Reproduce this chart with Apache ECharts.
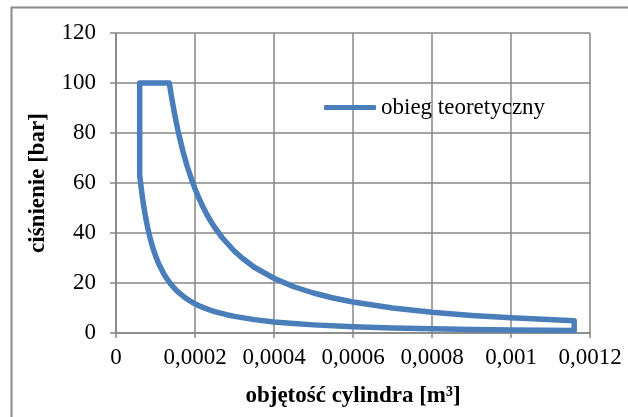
<!DOCTYPE html>
<html>
<head>
<meta charset="utf-8">
<script src="https://cdn.jsdelivr.net/npm/echarts@6/dist/echarts.min.js"></script>
<style>
html,body{margin:0;padding:0;background:#fff;}
#c{width:628px;height:417px;}
</style>
</head>
<body>
<div id="c"></div>
<script>
// Cycle path: volume [m3] and pressure [bar], in drawing order
var volume = [
  0.00116, 0.001, 0.0009, 0.0008, 0.0007, 0.0006, 0.0005, 0.00045, 0.0004, 0.00035,
  0.0003, 0.00028, 0.00026, 0.00025, 0.00024, 0.00022, 0.00021, 0.0002, 0.00019,
  0.00018, 0.00017, 0.00016, 0.00015, 0.00014, 0.00013, 0.00012, 0.00011, 0.000105,
  0.0001, 0.000095, 0.00009, 0.000085, 0.00008, 0.000075, 0.00007, 0.0000675,
  0.000065, 0.0000625, 0.00006,
  0.00006,
  0.000135,
  0.00014, 0.000145, 0.00015, 0.000155, 0.00016, 0.00017, 0.00018, 0.00019, 0.0002,
  0.00021, 0.00022, 0.00023, 0.00024, 0.00025, 0.00027, 0.0003, 0.00032, 0.00035,
  0.0004, 0.00045, 0.0005, 0.00055, 0.0006, 0.0007, 0.0008, 0.0009, 0.001, 0.00116,
  0.00116
];
var pressure = [
  1.0, 1.23, 1.43, 1.68, 2.03, 2.52, 3.25, 3.76, 4.44, 5.35,
  6.64, 7.32, 8.12, 8.57, 9.08, 10.25, 10.94, 11.7, 12.59,
  13.58, 14.71, 16.01, 17.53, 19.3, 21.41, 23.96, 27.06, 28.88,
  30.92, 33.22, 35.84, 38.81, 42.27, 46.26, 50.93, 53.62,
  56.52, 59.7, 63.2,
  100,
  100,
  95.0, 90.5, 86.3, 82.4, 78.8, 72.4, 66.8, 62.0, 57.7,
  53.9, 50.5, 47.4, 44.7, 42.2, 37.9, 32.7, 29.9, 26.3,
  21.9, 18.5, 16.0, 14.0, 12.4, 9.98, 8.28, 7.02, 6.06, 4.9,
  1.0
];
var seriesName = 'obieg teoretyczny';
var xTitle = 'objętość cylindra [m³]';
var yTitle = 'ciśnienie [bar]';

var pts = volume.map(function (v, i) { return [v, pressure[i]]; });
var font = '"Liberation Serif", "Times New Roman", serif';
var gridColor = '#878787';

var chart = echarts.init(document.getElementById('c'), null, {renderer: 'canvas'});
chart.setOption({
  animation: false,
  backgroundColor: '#fff',
  graphic: [{
    type: 'rect', left: 9, top: 5, silent: true,
    shape: {width: 640, height: 440},
    style: {fill: 'none', stroke: '#8a8a8a', lineWidth: 2}
  }],
  grid: {left: 116, right: 38, top: 33, bottom: 84},
  legend: {
    left: 319, top: 91,
    data: [seriesName],
    icon: 'roundRect',
    itemWidth: 52, itemHeight: 5,
    textStyle: {fontFamily: font, fontSize: 23, color: '#000'}
  },
  xAxis: {
    type: 'value', min: 0, max: 0.0012, interval: 0.0002,
    name: xTitle, nameLocation: 'middle', nameGap: 52,
    nameTextStyle: {fontFamily: font, fontSize: 23, fontWeight: 'bold', color: '#000'},
    axisLine: {show: true, lineStyle: {color: gridColor, width: 1.5}},
    axisTick: {show: true, length: 5, lineStyle: {color: gridColor, width: 1.5}},
    splitLine: {show: true, lineStyle: {color: gridColor, width: 1.5}},
    axisLabel: {
      fontFamily: font, fontSize: 23, color: '#000', margin: 13,
      formatter: function (v) { return v === 0 ? '0' : String(+v.toFixed(4)).replace('.', ','); }
    }
  },
  yAxis: {
    type: 'value', min: 0, max: 120, interval: 20,
    name: yTitle, nameLocation: 'middle', nameGap: 66, nameRotate: 90,
    nameTextStyle: {fontFamily: font, fontSize: 23, fontWeight: 'bold', color: '#000'},
    axisLine: {show: true, lineStyle: {color: gridColor, width: 1.5}},
    axisTick: {show: true, length: 6, lineStyle: {color: gridColor, width: 1.5}},
    splitLine: {show: true, lineStyle: {color: gridColor, width: 1.5}},
    axisLabel: {fontFamily: font, fontSize: 23, color: '#000', margin: 20}
  },
  series: [{
    name: seriesName,
    type: 'line',
    data: pts,
    showSymbol: false,
    symbol: 'none',
    smooth: false,
    lineStyle: {color: '#4a7ebb', width: 5.5, join: 'round', cap: 'round'},
    itemStyle: {color: '#4a7ebb'}
  }]
});
</script>
</body>
</html>
